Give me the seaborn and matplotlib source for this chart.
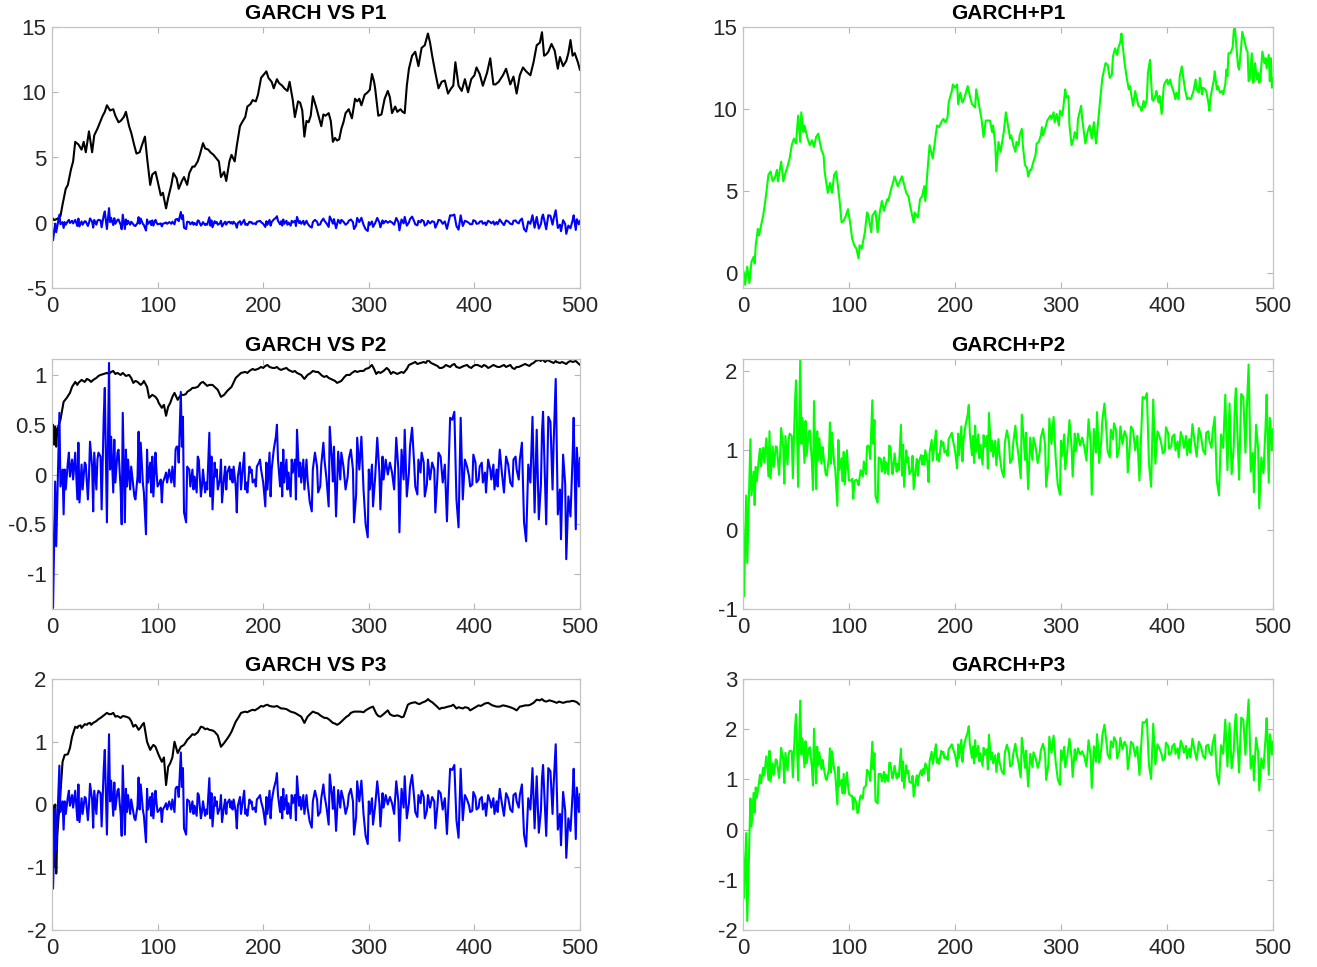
import matplotlib
matplotlib.use("Agg")
import matplotlib.pyplot as plt
from matplotlib.ticker import FuncFormatter
import seaborn as sns
import pandas as pd

sns.set_theme(style="white")
plt.rcParams["font.family"] = ["Liberation Sans", "DejaVu Sans"]

# ---- data: (time index, value) ----
# shared innovation / shock series P
shock_p = [
    (0, -0.42), (1, -1.34), (3, -0.07), (4, -0.72), (7, 0.62), (8, -0.12), (10, 0.05), (11, -0.40), (12, 0.05), (13, -0.15),
    (15, 0.12), (16, 0.22), (17, -0.02), (19, 0.15), (20, -0.05), (22, 0.22), (24, -0.25), (25, 0.32), (26, -0.28), (28, 0.10),
    (29, -0.15), (31, 0.12), (32, 0.10), (34, -0.25), (35, -0.02), (36, 0.33), (38, 0.08), (39, -0.37), (40, 0.22), (42, -0.15),
    (43, 0.15), (44, 0.22), (46, 0.18), (47, -0.35), (49, 0.58), (50, 0.87), (52, -0.48), (54, 1.12), (55, 0.05), (56, 0.38),
    (58, -0.18), (59, 0.35), (60, -0.08), (62, 0.22), (63, 0.25), (65, -0.15), (66, -0.50), (67, 0.62), (69, -0.48), (70, 0.25),
    (71, -0.12), (72, 0.15), (74, -0.15), (75, 0.08), (76, -0.02), (78, -0.22), (79, -0.25), (81, -0.02), (82, 0.43), (83, -0.08),
    (84, 0.32), (86, -0.08), (87, -0.18), (89, -0.60), (90, 0.25), (91, -0.08), (93, 0.12), (94, -0.18), (95, 0.18), (96, -0.22),
    (98, 0.22), (99, 0.02), (100, -0.12), (102, -0.08), (103, -0.05), (104, -0.28), (105, -0.08), (107, -0.02), (108, 0.02), (109, -0.08),
    (110, -0.02), (111, 0.05), (113, -0.08), (114, 0.08), (116, -0.12), (117, 0.25), (118, 0.28), (119, 0.28), (120, 0.12), (122, 0.83),
    (123, 0.28), (124, 0.58), (125, -0.38), (127, -0.48), (128, 0.08), (130, 0.05), (131, -0.12), (133, 0.05), (134, -0.15), (135, -0.02),
    (137, -0.18), (138, 0.18), (139, 0.15), (141, -0.22), (142, -0.12), (143, 0.05), (145, -0.18), (146, -0.08), (147, -0.15), (149, 0.42),
    (150, -0.22), (151, 0.18), (152, -0.35), (154, 0.12), (155, -0.02), (156, 0.05), (157, -0.15), (159, -0.05), (160, 0.15), (161, -0.28),
    (163, -0.02), (164, 0.08), (165, -0.15), (166, 0.02), (168, 0.08), (169, -0.05), (170, 0.05), (171, -0.08), (172, 0.08), (174, -0.12),
    (175, -0.38), (176, -0.02), (178, 0.12), (179, -0.15), (180, -0.02), (182, 0.22), (183, -0.15), (184, -0.08), (185, -0.18), (187, 0.08),
    (188, 0.02), (189, 0.05), (190, -0.08), (192, -0.05), (193, -0.12), (194, 0.08), (196, 0.12), (197, 0.15), (198, 0.05), (200, -0.08),
    (202, -0.32), (203, 0.12), (204, -0.15), (206, 0.22), (207, -0.22), (208, 0.05), (209, 0.15), (210, 0.25), (212, 0.38), (213, 0.50),
    (214, 0.15), (216, -0.12), (217, 0.12), (218, -0.22), (219, 0.25), (220, -0.08), (222, 0.15), (223, -0.15), (224, 0.02), (226, -0.22),
    (227, 0.15), (228, 0.02), (230, 0.15), (231, -0.25), (232, 0.45), (234, -0.02), (235, 0.12), (236, -0.08), (238, 0.15), (239, -0.15),
    (241, 0.15), (242, -0.05), (244, -0.27), (246, -0.37), (247, 0.05), (249, 0.22), (251, 0.08), (252, -0.18), (254, -0.12), (255, 0.10),
    (257, 0.32), (258, 0.15), (260, -0.05), (262, -0.32), (263, 0.48), (265, 0.15), (266, -0.07), (267, 0.28), (269, -0.42), (271, 0.23),
    (273, -0.05), (274, 0.22), (276, 0.08), (278, -0.15), (280, -0.02), (281, 0.15), (283, 0.25), (285, 0.05), (286, -0.48), (288, -0.20),
    (289, 0.37), (291, 0.05), (293, 0.38), (295, -0.15), (297, -0.50), (299, -0.63), (300, 0.05), (301, -0.15), (303, 0.10), (304, -0.32),
    (306, -0.03), (308, 0.37), (310, 0.02), (311, -0.35), (313, 0.18), (314, -0.05), (316, 0.15), (318, 0.00), (320, 0.12), (322, 0.02),
    (324, -0.15), (326, 0.37), (328, 0.05), (329, -0.58), (331, 0.25), (333, -0.05), (334, 0.45), (336, -0.22), (338, 0.02), (339, 0.28),
    (341, 0.47), (343, 0.10), (344, -0.12), (346, -0.20), (347, 0.15), (349, 0.02), (350, 0.22), (352, 0.12), (353, -0.22), (355, -0.10),
    (356, 0.15), (358, -0.05), (360, 0.12), (362, 0.05), (363, -0.38), (365, -0.02), (366, 0.22), (368, 0.18), (370, -0.08), (372, 0.10),
    (374, -0.47), (377, 0.57), (379, 0.55), (381, 0.63), (383, -0.25), (385, -0.53), (387, 0.57), (389, -0.25), (391, 0.15), (393, 0.08),
    (395, -0.02), (396, -0.12), (398, -0.10), (399, 0.20), (401, 0.12), (402, -0.08), (404, -0.05), (405, 0.08), (407, 0.12), (408, -0.08),
    (410, 0.02), (411, -0.18), (413, 0.15), (415, 0.05), (416, -0.05), (418, 0.10), (419, -0.15), (421, 0.05), (422, -0.12), (424, 0.25),
    (426, 0.02), (428, -0.18), (430, 0.18), (432, 0.10), (434, -0.08), (436, -0.12), (437, 0.15), (439, 0.18), (440, 0.05), (442, -0.05),
    (443, 0.15), (445, 0.32), (447, -0.48), (449, -0.67), (451, 0.10), (453, -0.08), (455, 0.58), (457, -0.38), (459, 0.45), (461, -0.45),
    (463, -0.10), (464, 0.42), (465, 0.63), (468, -0.50), (470, 0.58), (472, 0.53), (474, -0.15), (475, 0.30), (477, 0.96), (479, -0.40),
    (481, -0.15), (482, -0.65), (484, 0.20), (486, -0.10), (487, -0.85), (489, -0.22), (491, -0.42), (493, 0.18), (494, 0.57), (496, -0.55),
    (497, 0.27), (499, -0.12), (500, 0.17),
]

# GARCH fit for model P1
garch_p1 = [
    (0, 0.4), (2, 0.2), (5, 0.3), (8, 0.5), (10, 1.4), (13, 2.6), (15, 2.9), (18, 4.1), (20, 4.7), (22, 6.2),
    (25, 6.0), (28, 5.6), (30, 6.2), (32, 5.4), (35, 7.0), (38, 5.4), (40, 6.7), (43, 7.2), (45, 7.6), (48, 8.2),
    (50, 8.5), (52, 9.0), (55, 8.6), (58, 8.7), (60, 8.2), (63, 7.7), (65, 7.8), (68, 8.1), (70, 8.5), (73, 7.4),
    (75, 6.9), (78, 5.9), (80, 5.3), (83, 5.4), (85, 5.9), (88, 6.6), (90, 5.0), (93, 2.9), (95, 3.7), (98, 3.9),
    (100, 3.2), (103, 2.1), (105, 2.3), (108, 1.1), (110, 1.9), (113, 2.9), (115, 3.8), (118, 3.4), (120, 2.6), (123, 3.2),
    (125, 3.5), (128, 2.9), (130, 3.8), (133, 4.3), (135, 4.3), (138, 4.7), (140, 5.2), (143, 6.1), (145, 5.7), (148, 5.6),
    (150, 5.4), (153, 5.2), (155, 5.0), (158, 4.7), (160, 3.5), (163, 3.9), (165, 3.2), (168, 4.7), (170, 5.2), (173, 4.7),
    (175, 5.9), (178, 7.4), (180, 7.7), (183, 8.1), (185, 8.9), (188, 9.1), (190, 9.4), (193, 9.3), (195, 9.8), (198, 11.1),
    (200, 11.3), (203, 11.6), (205, 11.1), (208, 10.8), (210, 10.3), (213, 11.0), (215, 10.7), (218, 10.5), (220, 10.3), (223, 10.1),
    (225, 10.8), (228, 9.4), (230, 8.1), (233, 9.3), (235, 9.2), (237, 8.6), (239, 6.6), (241, 7.8), (243, 7.7), (245, 8.2),
    (247, 9.7), (250, 8.9), (253, 8.0), (255, 7.4), (257, 8.3), (259, 8.2), (262, 8.4), (264, 7.8), (266, 6.2), (268, 6.5),
    (270, 6.3), (272, 6.4), (274, 7.2), (276, 7.7), (278, 8.4), (281, 8.7), (284, 8.0), (287, 9.5), (289, 9.3), (291, 9.5),
    (293, 9.0), (296, 9.8), (299, 10.0), (301, 10.2), (303, 11.4), (305, 10.8), (306, 10.3), (309, 8.2), (312, 8.3), (315, 9.5),
    (318, 10.1), (320, 9.6), (322, 8.4), (325, 8.9), (327, 8.5), (330, 8.7), (332, 8.5), (334, 8.4), (336, 10.5), (338, 11.8),
    (341, 12.8), (344, 13.1), (347, 12.0), (350, 13.4), (353, 13.6), (356, 14.5), (358, 13.8), (360, 12.8), (363, 11.5), (366, 10.3),
    (369, 10.8), (372, 10.9), (375, 9.9), (378, 10.3), (380, 10.5), (382, 12.3), (385, 10.5), (388, 10.1), (391, 11.0), (394, 10.0),
    (397, 11.0), (400, 11.3), (402, 11.9), (405, 11.4), (408, 10.5), (412, 11.5), (415, 12.6), (418, 10.6), (420, 10.6), (423, 10.8),
    (427, 11.3), (430, 11.8), (434, 10.6), (437, 11.2), (440, 9.9), (443, 11.3), (446, 11.9), (449, 11.6), (453, 11.3), (456, 12.3),
    (459, 13.6), (462, 13.8), (464, 14.6), (466, 12.8), (468, 12.9), (470, 13.1), (473, 13.7), (476, 13.2), (479, 11.8), (481, 12.7),
    (484, 12.0), (487, 12.4), (489, 13.0), (491, 14.0), (493, 12.8), (495, 13.0), (498, 12.3), (500, 11.7),
]

# GARCH + P1 combined series
garch_plus_p1 = [
    (0, 0.2), (1, 0.0), (2, -0.7), (4, 0.4), (6, -0.6), (8, 0.7), (10, 1.0), (11, 0.6), (12, 1.7), (14, 2.7),
    (15, 2.3), (17, 2.9), (19, 3.5), (21, 4.4), (22, 4.9), (24, 6.0), (26, 6.2), (28, 5.6), (30, 5.8), (32, 6.3),
    (33, 5.6), (36, 6.8), (38, 5.6), (40, 6.1), (42, 6.5), (44, 7.0), (46, 7.8), (48, 8.2), (50, 7.9), (52, 9.6),
    (54, 8.0), (55, 9.8), (57, 8.6), (58, 9.0), (61, 8.2), (63, 7.8), (65, 8.1), (67, 7.7), (69, 8.3), (71, 8.5),
    (74, 7.5), (76, 7.2), (77, 6.2), (80, 4.9), (82, 5.5), (84, 4.9), (86, 6.0), (88, 6.2), (91, 4.5), (93, 3.1),
    (95, 3.2), (97, 3.5), (99, 3.9), (101, 3.1), (103, 2.1), (105, 1.7), (107, 1.5), (109, 0.9), (110, 1.7), (112, 1.5),
    (115, 2.5), (117, 3.7), (118, 3.6), (121, 2.5), (122, 3.5), (125, 3.8), (127, 2.5), (129, 3.7), (131, 4.4), (133, 3.8),
    (136, 4.5), (137, 4.4), (140, 5.2), (141, 5.4), (143, 5.9), (146, 5.3), (148, 5.6), (150, 5.9), (152, 5.4), (154, 4.9),
    (156, 4.7), (158, 4.0), (161, 3.1), (162, 3.7), (165, 3.4), (167, 4.5), (169, 4.7), (171, 5.3), (172, 4.4), (174, 6.2),
    (176, 7.8), (179, 7.0), (181, 8.0), (183, 9.0), (185, 8.9), (187, 9.2), (189, 9.4), (191, 9.2), (193, 9.5), (194, 10.4),
    (197, 11.1), (198, 11.5), (200, 11.3), (202, 11.5), (203, 10.3), (205, 11.0), (207, 10.4), (209, 10.7), (212, 11.4), (214, 10.8),
    (216, 10.3), (219, 10.1), (220, 11.2), (222, 10.5), (225, 9.4), (227, 8.3), (229, 9.3), (231, 9.3), (233, 9.3), (235, 8.6),
    (236, 9.0), (238, 7.8), (239, 6.2), (241, 8.0), (243, 7.4), (246, 8.6), (248, 9.8), (250, 9.0), (252, 8.2), (253, 8.4),
    (255, 7.8), (257, 7.4), (258, 8.0), (260, 7.8), (261, 8.4), (263, 8.8), (264, 7.8), (266, 6.6), (268, 6.4), (269, 5.9),
    (271, 6.3), (272, 6.3), (274, 6.8), (276, 7.2), (277, 7.9), (279, 8.0), (281, 8.4), (282, 8.9), (283, 8.4), (285, 8.8),
    (287, 9.3), (290, 9.6), (291, 9.4), (293, 9.8), (294, 9.2), (296, 9.7), (298, 9.0), (299, 9.9), (301, 9.6), (302, 10.0),
    (304, 11.2), (305, 10.7), (307, 10.8), (308, 9.0), (310, 7.8), (312, 8.2), (313, 8.6), (315, 8.2), (316, 9.4), (319, 10.2),
    (320, 9.4), (323, 7.9), (325, 8.6), (327, 9.0), (329, 8.2), (331, 9.2), (333, 7.9), (335, 9.2), (337, 10.6), (339, 11.9),
    (342, 12.8), (344, 12.7), (346, 11.9), (348, 12.1), (349, 13.2), (351, 13.7), (353, 13.3), (354, 13.7), (356, 14.1), (357, 14.6),
    (359, 13.4), (360, 12.8), (362, 11.9), (364, 11.2), (365, 11.4), (367, 10.6), (368, 10.2), (370, 11.1), (371, 10.8), (373, 10.2),
    (375, 10.1), (376, 9.9), (378, 10.5), (379, 10.1), (381, 10.6), (382, 12.2), (384, 13.0), (386, 10.6), (387, 10.5), (389, 10.8),
    (390, 11.1), (392, 10.4), (393, 10.8), (395, 9.7), (397, 11.4), (398, 11.6), (400, 11.8), (401, 11.5), (403, 11.8), (404, 11.5),
    (406, 11.1), (408, 10.6), (409, 11.0), (411, 10.6), (412, 12.0), (414, 12.6), (415, 12.1), (417, 11.2), (419, 10.6), (420, 10.7),
    (422, 10.6), (423, 10.7), (425, 11.1), (427, 11.8), (428, 11.2), (430, 11.0), (431, 11.9), (433, 10.9), (434, 11.3), (436, 11.2),
    (437, 11.1), (439, 10.4), (440, 9.9), (441, 10.7), (443, 11.4), (444, 11.7), (445, 12.3), (447, 11.2), (448, 11.4), (450, 11.0),
    (452, 11.1), (453, 10.9), (455, 11.5), (456, 12.4), (457, 12.0), (458, 13.4), (460, 13.4), (462, 13.8), (463, 14.8), (464, 15.0),
    (466, 13.4), (467, 12.6), (468, 12.4), (470, 13.8), (471, 14.7), (473, 14.2), (475, 13.6), (476, 13.5), (477, 11.7), (478, 11.8),
    (480, 13.4), (481, 11.6), (482, 11.7), (483, 12.8), (485, 11.8), (486, 12.2), (487, 11.6), (488, 11.8), (490, 13.5), (492, 12.8),
    (493, 13.1), (494, 12.5), (496, 13.3), (497, 11.7), (498, 13.1), (499, 11.3), (500, 11.9),
]

# GARCH fit for model P2
garch_p2 = [
    (0, 0.30), (1, 0.50), (2, 0.30), (3, 0.48), (4, 0.28), (5, 0.45), (8, 0.55), (11, 0.73), (14, 0.77), (17, 0.82),
    (19, 0.88), (22, 0.93), (24, 0.90), (25, 0.92), (27, 0.94), (28, 0.95), (31, 0.93), (33, 0.96), (35, 0.95), (37, 0.93),
    (39, 0.95), (42, 0.97), (44, 0.99), (46, 1.00), (49, 1.01), (52, 1.02), (54, 1.01), (56, 1.03), (58, 1.04), (60, 1.01),
    (62, 1.02), (65, 1.00), (67, 1.02), (70, 0.99), (73, 1.00), (75, 0.97), (77, 0.92), (79, 0.94), (81, 0.93), (84, 0.90),
    (86, 0.92), (87, 0.94), (90, 0.88), (92, 0.77), (94, 0.79), (95, 0.80), (98, 0.78), (100, 0.75), (101, 0.72), (104, 0.67),
    (106, 0.70), (108, 0.59), (110, 0.68), (112, 0.72), (114, 0.78), (116, 0.82), (119, 0.75), (122, 0.80), (125, 0.80), (127, 0.81),
    (128, 0.83), (131, 0.85), (133, 0.87), (135, 0.87), (138, 0.88), (141, 0.92), (143, 0.93), (145, 0.91), (147, 0.89), (149, 0.90),
    (152, 0.90), (154, 0.88), (157, 0.85), (160, 0.78), (163, 0.80), (166, 0.84), (168, 0.86), (170, 0.88), (174, 0.97), (177, 1.00),
    (179, 1.02), (183, 1.03), (185, 1.02), (187, 1.04), (190, 1.06), (192, 1.05), (195, 1.06), (198, 1.08), (200, 1.07), (202, 1.09),
    (204, 1.10), (206, 1.08), (209, 1.07), (211, 1.07), (213, 1.08), (215, 1.06), (217, 1.05), (219, 1.06), (222, 1.07), (224, 1.05),
    (226, 1.04), (228, 1.03), (230, 1.04), (232, 1.02), (234, 1.01), (236, 1.00), (239, 0.96), (242, 1.00), (245, 1.02), (247, 1.04),
    (250, 1.03), (252, 1.03), (254, 1.01), (256, 0.99), (258, 0.98), (260, 0.99), (262, 0.97), (264, 0.96), (266, 0.95), (268, 0.94),
    (270, 0.92), (272, 0.93), (274, 0.94), (277, 0.98), (279, 1.00), (282, 1.00), (284, 1.02), (287, 1.04), (289, 1.03), (292, 1.04),
    (295, 1.04), (297, 1.06), (300, 1.07), (303, 1.10), (305, 1.06), (307, 1.01), (309, 1.03), (311, 1.02), (314, 1.04), (317, 1.07),
    (319, 1.05), (321, 1.01), (323, 1.03), (325, 1.02), (327, 1.01), (329, 1.02), (331, 1.03), (333, 1.02), (336, 1.06), (338, 1.10),
    (340, 1.11), (342, 1.12), (344, 1.13), (346, 1.11), (349, 1.12), (352, 1.13), (354, 1.12), (356, 1.15), (359, 1.12), (361, 1.11),
    (363, 1.10), (365, 1.09), (367, 1.07), (369, 1.07), (371, 1.08), (373, 1.10), (375, 1.09), (377, 1.08), (379, 1.10), (381, 1.11),
    (383, 1.08), (386, 1.07), (388, 1.08), (390, 1.09), (393, 1.10), (395, 1.08), (397, 1.07), (399, 1.09), (401, 1.10), (403, 1.10),
    (405, 1.09), (407, 1.08), (409, 1.10), (411, 1.09), (413, 1.07), (415, 1.08), (418, 1.10), (420, 1.09), (422, 1.08), (424, 1.08),
    (426, 1.09), (428, 1.10), (430, 1.08), (432, 1.09), (434, 1.10), (436, 1.07), (438, 1.06), (440, 1.08), (442, 1.08), (444, 1.09),
    (446, 1.10), (448, 1.11), (450, 1.10), (452, 1.09), (454, 1.11), (456, 1.12), (458, 1.14), (461, 1.15), (463, 1.14), (464, 1.16),
    (467, 1.13), (469, 1.15), (471, 1.14), (473, 1.13), (475, 1.12), (477, 1.14), (478, 1.13), (481, 1.12), (483, 1.13), (485, 1.12),
    (487, 1.11), (489, 1.13), (491, 1.14), (493, 1.13), (496, 1.14), (498, 1.12), (500, 1.10),
]

garch_plus_p2 = [
    (0, 0.08), (1, -0.84), (3, 0.43), (4, -0.42), (7, 1.14), (8, 0.43), (10, 0.73), (11, 0.31), (12, 0.79), (13, 0.61),
    (15, 0.90), (16, 1.02), (17, 0.80), (19, 1.03), (20, 0.85), (22, 1.15), (24, 0.67), (25, 1.24), (26, 0.65), (28, 1.05),
    (29, 0.79), (31, 1.05), (32, 1.04), (34, 0.69), (35, 0.93), (36, 1.28), (38, 1.03), (39, 0.58), (40, 1.18), (42, 0.82),
    (43, 1.13), (44, 1.21), (46, 1.18), (47, 0.65), (49, 1.59), (50, 1.88), (52, 0.54), (54, 2.15), (55, 1.08), (56, 1.41),
    (58, 0.84), (59, 1.37), (60, 0.93), (62, 1.23), (63, 1.25), (65, 0.85), (66, 0.50), (67, 1.62), (69, 0.51), (70, 1.24),
    (71, 0.87), (72, 1.15), (74, 0.83), (75, 1.04), (76, 0.92), (78, 0.70), (79, 0.68), (81, 0.91), (82, 1.35), (83, 0.83),
    (84, 1.22), (86, 0.84), (87, 0.76), (89, 0.30), (90, 1.13), (91, 0.75), (93, 0.90), (94, 0.61), (95, 0.98), (96, 0.57),
    (98, 1.00), (99, 0.78), (100, 0.62), (102, 0.62), (103, 0.64), (104, 0.39), (105, 0.61), (107, 0.63), (108, 0.61), (109, 0.56),
    (110, 0.66), (111, 0.75), (113, 0.67), (114, 0.86), (116, 0.70), (117, 1.05), (118, 1.06), (119, 1.03), (120, 0.89), (122, 1.63),
    (123, 1.08), (124, 1.38), (125, 0.42), (127, 0.34), (128, 0.91), (130, 0.89), (131, 0.73), (133, 0.91), (134, 0.71), (135, 0.85),
    (137, 0.70), (138, 1.06), (139, 1.04), (141, 0.70), (142, 0.80), (143, 0.96), (145, 0.73), (146, 0.83), (147, 0.75), (149, 1.32),
    (150, 0.68), (151, 1.07), (152, 0.54), (154, 1.00), (155, 0.85), (156, 0.91), (157, 0.70), (159, 0.75), (160, 0.93), (161, 0.51),
    (163, 0.78), (164, 0.89), (165, 0.68), (166, 0.86), (168, 0.94), (169, 0.82), (170, 0.93), (171, 0.82), (172, 1.00), (174, 0.85),
    (175, 0.60), (176, 0.97), (178, 1.13), (179, 0.87), (180, 1.00), (182, 1.25), (183, 0.88), (184, 0.95), (185, 0.86), (187, 1.12),
    (188, 1.06), (189, 1.10), (190, 0.97), (192, 1.00), (193, 0.93), (194, 1.14), (196, 1.19), (197, 1.22), (198, 1.13), (200, 1.00),
    (202, 0.77), (203, 1.21), (204, 0.94), (206, 1.30), (207, 0.86), (208, 1.13), (209, 1.22), (210, 1.32), (212, 1.45), (213, 1.57),
    (214, 1.21), (216, 0.94), (217, 1.18), (218, 0.84), (219, 1.31), (220, 0.98), (222, 1.20), (223, 0.90), (224, 1.07), (226, 0.82),
    (227, 1.19), (228, 1.05), (230, 1.18), (231, 0.77), (232, 1.47), (234, 0.99), (235, 1.12), (236, 0.92), (238, 1.12), (239, 0.81),
    (241, 1.14), (242, 0.95), (244, 0.75), (246, 0.66), (247, 1.09), (249, 1.25), (251, 1.10), (252, 0.84), (254, 0.89), (255, 1.10),
    (257, 1.31), (258, 1.13), (260, 0.93), (262, 0.65), (263, 1.45), (265, 1.11), (266, 0.88), (267, 1.22), (269, 0.51), (271, 1.16),
    (273, 0.88), (274, 1.16), (276, 1.05), (278, 0.84), (280, 0.98), (281, 1.16), (283, 1.27), (285, 1.07), (286, 0.54), (288, 0.82),
    (289, 1.40), (291, 1.08), (293, 1.42), (295, 0.90), (297, 0.56), (299, 0.44), (300, 1.12), (301, 0.93), (303, 1.20), (304, 0.76),
    (306, 1.01), (308, 1.38), (310, 1.04), (311, 0.67), (313, 1.21), (314, 0.99), (316, 1.21), (318, 1.06), (320, 1.16), (322, 1.04),
    (324, 0.87), (326, 1.39), (328, 1.07), (329, 0.44), (331, 1.27), (333, 0.97), (334, 1.48), (336, 0.84), (338, 1.12), (339, 1.38),
    (341, 1.59), (343, 1.22), (344, 0.99), (346, 0.91), (347, 1.26), (349, 1.14), (350, 1.34), (352, 1.25), (353, 0.91), (355, 1.04),
    (356, 1.30), (358, 1.08), (360, 1.24), (362, 1.16), (363, 0.72), (365, 1.07), (366, 1.30), (368, 1.25), (370, 1.00), (372, 1.18),
    (374, 0.62), (377, 1.67), (379, 1.65), (381, 1.72), (383, 0.83), (385, 0.54), (387, 1.64), (389, 0.83), (391, 1.24), (393, 1.17),
    (395, 1.06), (396, 0.96), (398, 0.99), (399, 1.29), (401, 1.22), (402, 1.02), (404, 1.05), (405, 1.17), (407, 1.20), (408, 1.00),
    (410, 1.11), (411, 0.91), (413, 1.23), (415, 1.13), (416, 1.03), (418, 1.18), (419, 0.94), (421, 1.14), (422, 0.97), (424, 1.33),
    (426, 1.11), (428, 0.92), (430, 1.28), (432, 1.19), (434, 1.00), (436, 0.95), (437, 1.22), (439, 1.24), (440, 1.12), (442, 1.03),
    (443, 1.23), (445, 1.42), (447, 0.62), (449, 0.43), (451, 1.20), (453, 1.03), (455, 1.70), (457, 0.75), (459, 1.59), (461, 0.70),
    (463, 1.05), (464, 1.58), (465, 1.78), (468, 0.63), (470, 1.71), (472, 1.67), (474, 0.97), (475, 1.42), (477, 2.08), (479, 0.73),
    (481, 0.97), (482, 0.47), (484, 1.32), (486, 1.02), (487, 0.27), (489, 0.91), (491, 0.71), (493, 1.31), (494, 1.70), (496, 0.59),
    (497, 1.41), (499, 1.00), (500, 1.27),
]

# GARCH fit for model P3
garch_p3 = [
    (0, 0.00), (1, -0.02), (2, -1.00), (3, 0.00), (4, -1.10), (5, -0.50), (6, -0.25), (8, 0.18), (10, 0.68), (12, 0.79),
    (15, 0.80), (17, 0.90), (19, 1.08), (22, 1.24), (24, 1.22), (25, 1.25), (27, 1.26), (28, 1.22), (31, 1.28), (33, 1.27),
    (34, 1.29), (36, 1.30), (37, 1.27), (39, 1.30), (42, 1.33), (44, 1.36), (46, 1.38), (49, 1.42), (52, 1.46), (54, 1.44),
    (56, 1.44), (58, 1.46), (60, 1.40), (62, 1.41), (65, 1.38), (67, 1.41), (70, 1.40), (73, 1.38), (75, 1.33), (77, 1.24),
    (79, 1.27), (80, 1.25), (82, 1.19), (84, 1.23), (85, 1.26), (87, 1.30), (90, 1.00), (93, 0.87), (94, 0.90), (96, 0.95),
    (98, 0.92), (100, 0.83), (101, 0.79), (104, 0.68), (106, 0.75), (108, 0.31), (110, 0.60), (112, 0.66), (114, 0.75), (115, 0.88),
    (116, 1.00), (119, 0.82), (122, 0.92), (125, 0.95), (127, 1.00), (128, 1.03), (131, 1.08), (133, 1.12), (135, 1.11), (138, 1.15),
    (141, 1.24), (143, 1.23), (145, 1.20), (147, 1.21), (149, 1.19), (152, 1.18), (154, 1.16), (157, 1.10), (160, 0.92), (163, 0.98),
    (166, 1.05), (168, 1.10), (170, 1.16), (174, 1.32), (177, 1.40), (179, 1.46), (183, 1.48), (185, 1.47), (187, 1.49), (190, 1.51),
    (192, 1.50), (195, 1.53), (198, 1.57), (200, 1.56), (202, 1.58), (204, 1.59), (206, 1.57), (209, 1.56), (211, 1.56), (213, 1.57),
    (215, 1.55), (217, 1.53), (219, 1.53), (222, 1.52), (224, 1.50), (226, 1.48), (228, 1.47), (230, 1.46), (232, 1.44), (234, 1.42),
    (236, 1.40), (239, 1.30), (242, 1.40), (245, 1.45), (247, 1.48), (250, 1.46), (252, 1.45), (254, 1.42), (256, 1.40), (258, 1.38),
    (260, 1.38), (262, 1.36), (264, 1.33), (266, 1.30), (268, 1.29), (270, 1.27), (272, 1.29), (274, 1.32), (277, 1.37), (279, 1.40),
    (281, 1.42), (283, 1.46), (286, 1.48), (288, 1.48), (292, 1.48), (295, 1.47), (297, 1.50), (301, 1.54), (304, 1.56), (307, 1.45),
    (309, 1.41), (311, 1.40), (314, 1.44), (316, 1.47), (318, 1.50), (320, 1.44), (322, 1.42), (324, 1.41), (327, 1.42), (329, 1.41),
    (331, 1.39), (333, 1.40), (337, 1.59), (339, 1.61), (341, 1.62), (344, 1.63), (346, 1.61), (348, 1.60), (350, 1.62), (353, 1.64),
    (355, 1.66), (356, 1.68), (358, 1.65), (360, 1.63), (362, 1.60), (364, 1.57), (367, 1.52), (369, 1.54), (371, 1.54), (373, 1.55),
    (375, 1.56), (378, 1.57), (380, 1.59), (383, 1.53), (385, 1.55), (387, 1.54), (389, 1.53), (391, 1.55), (394, 1.54), (396, 1.50),
    (398, 1.52), (400, 1.54), (402, 1.56), (404, 1.58), (406, 1.57), (408, 1.59), (410, 1.61), (413, 1.62), (415, 1.60), (417, 1.58),
    (419, 1.57), (421, 1.56), (424, 1.56), (427, 1.58), (430, 1.57), (432, 1.56), (434, 1.55), (437, 1.53), (440, 1.50), (443, 1.56),
    (446, 1.57), (448, 1.58), (451, 1.58), (453, 1.59), (456, 1.62), (459, 1.67), (462, 1.66), (464, 1.68), (466, 1.65), (468, 1.64),
    (471, 1.66), (473, 1.65), (475, 1.64), (478, 1.62), (480, 1.64), (482, 1.63), (484, 1.62), (486, 1.63), (488, 1.64), (490, 1.64),
    (492, 1.65), (494, 1.65), (497, 1.63), (499, 1.60), (500, 1.59),
]

garch_plus_p3 = [
    (0, -0.42), (1, -1.36), (3, -0.07), (4, -1.82), (7, 0.62), (8, 0.06), (10, 0.73), (11, 0.34), (12, 0.84), (13, 0.64),
    (15, 0.92), (16, 1.09), (17, 0.92), (19, 1.23), (20, 1.08), (22, 1.46), (24, 0.99), (25, 1.57), (26, 0.96), (28, 1.32),
    (29, 1.09), (31, 1.40), (32, 1.37), (34, 1.03), (35, 1.27), (36, 1.63), (38, 1.38), (39, 0.93), (40, 1.53), (42, 1.18),
    (43, 1.49), (44, 1.57), (46, 1.56), (47, 1.04), (49, 2.00), (50, 2.30), (52, 0.98), (54, 2.57), (55, 1.50), (56, 1.82),
    (58, 1.24), (59, 1.76), (60, 1.32), (62, 1.61), (63, 1.64), (65, 1.23), (66, 0.88), (67, 2.01), (69, 0.92), (70, 1.65),
    (71, 1.28), (72, 1.54), (74, 1.20), (75, 1.39), (76, 1.25), (78, 1.02), (79, 0.99), (81, 1.20), (82, 1.62), (83, 1.14),
    (84, 1.56), (86, 1.20), (87, 1.12), (89, 0.50), (90, 1.25), (91, 0.87), (93, 0.99), (94, 0.72), (95, 1.11), (96, 0.72),
    (98, 1.14), (99, 0.90), (100, 0.71), (102, 0.67), (103, 0.67), (104, 0.40), (105, 0.64), (107, 0.53), (108, 0.33), (109, 0.37),
    (110, 0.58), (111, 0.68), (113, 0.62), (114, 0.83), (116, 0.88), (117, 1.19), (118, 1.16), (119, 1.10), (120, 0.97), (122, 1.75),
    (123, 1.21), (124, 1.52), (125, 0.57), (127, 0.52), (128, 1.11), (130, 1.11), (131, 0.96), (133, 1.15), (134, 0.95), (135, 1.09),
    (137, 0.96), (138, 1.33), (139, 1.33), (141, 1.02), (142, 1.11), (143, 1.27), (145, 1.02), (146, 1.12), (147, 1.05), (149, 1.61),
    (150, 0.97), (151, 1.36), (152, 0.83), (154, 1.28), (155, 1.12), (156, 1.17), (157, 0.95), (159, 0.93), (160, 1.07), (161, 0.66),
    (163, 0.96), (164, 1.08), (165, 0.88), (166, 1.07), (168, 1.18), (169, 1.08), (170, 1.21), (171, 1.12), (172, 1.32), (174, 1.20),
    (175, 0.97), (176, 1.36), (178, 1.55), (179, 1.31), (180, 1.44), (182, 1.70), (183, 1.33), (184, 1.41), (185, 1.31), (187, 1.57),
    (188, 1.51), (189, 1.55), (190, 1.42), (192, 1.45), (193, 1.39), (194, 1.60), (196, 1.66), (197, 1.70), (198, 1.62), (200, 1.49),
    (202, 1.26), (203, 1.70), (204, 1.43), (206, 1.79), (207, 1.35), (208, 1.62), (209, 1.72), (210, 1.81), (212, 1.94), (213, 2.06),
    (214, 1.70), (216, 1.43), (217, 1.66), (218, 1.32), (219, 1.78), (220, 1.45), (222, 1.67), (223, 1.36), (224, 1.52), (226, 1.27),
    (227, 1.63), (228, 1.49), (230, 1.60), (231, 1.20), (232, 1.89), (234, 1.40), (235, 1.53), (236, 1.32), (238, 1.48), (239, 1.15),
    (241, 1.52), (242, 1.35), (244, 1.17), (246, 1.10), (247, 1.53), (249, 1.69), (251, 1.53), (252, 1.26), (254, 1.30), (255, 1.51),
    (257, 1.71), (258, 1.53), (260, 1.32), (262, 1.04), (263, 1.83), (265, 1.47), (266, 1.23), (267, 1.57), (269, 0.86), (271, 1.51),
    (273, 1.25), (274, 1.54), (276, 1.43), (278, 1.23), (280, 1.39), (281, 1.58), (283, 1.71), (285, 1.51), (286, 0.99), (288, 1.28),
    (289, 1.85), (291, 1.53), (293, 1.87), (295, 1.34), (297, 1.00), (299, 0.89), (300, 1.58), (301, 1.39), (303, 1.65), (304, 1.24),
    (306, 1.47), (308, 1.81), (310, 1.43), (311, 1.05), (313, 1.60), (314, 1.39), (316, 1.62), (318, 1.50), (320, 1.56), (322, 1.45),
    (324, 1.26), (326, 1.78), (328, 1.46), (329, 0.83), (331, 1.66), (333, 1.35), (334, 1.90), (336, 1.33), (338, 1.60), (339, 1.88),
    (341, 2.09), (343, 1.72), (344, 1.50), (346, 1.41), (347, 1.76), (349, 1.64), (350, 1.84), (352, 1.75), (353, 1.42), (355, 1.56),
    (356, 1.83), (358, 1.60), (360, 1.75), (362, 1.65), (363, 1.20), (365, 1.53), (366, 1.75), (368, 1.70), (370, 1.46), (372, 1.65),
    (374, 1.09), (377, 2.14), (379, 2.13), (381, 2.20), (383, 1.28), (385, 1.01), (387, 2.11), (389, 1.30), (391, 1.70), (393, 1.61),
    (395, 1.49), (396, 1.38), (398, 1.42), (399, 1.73), (401, 1.67), (402, 1.49), (404, 1.53), (405, 1.66), (407, 1.71), (408, 1.51),
    (410, 1.62), (411, 1.42), (413, 1.77), (415, 1.65), (416, 1.53), (418, 1.67), (419, 1.42), (421, 1.61), (422, 1.44), (424, 1.81),
    (426, 1.58), (428, 1.39), (430, 1.75), (432, 1.66), (434, 1.47), (436, 1.41), (437, 1.67), (439, 1.69), (440, 1.55), (442, 1.48),
    (443, 1.71), (445, 1.89), (447, 1.10), (449, 0.91), (451, 1.68), (453, 1.51), (455, 2.19), (457, 1.26), (459, 2.12), (461, 1.22),
    (463, 1.57), (464, 2.10), (465, 2.30), (468, 1.14), (470, 2.23), (472, 2.19), (474, 1.49), (475, 1.94), (477, 2.59), (479, 1.22),
    (481, 1.47), (482, 0.98), (484, 1.83), (486, 1.53), (487, 0.78), (489, 1.42), (491, 1.22), (493, 1.83), (494, 2.22), (496, 1.09),
    (497, 1.90), (499, 1.49), (500, 1.76),
]

titles_left = ["GARCH VS P1", "GARCH VS P2", "GARCH VS P3"]
titles_right = ["GARCH+P1", "GARCH+P2", "GARCH+P3"]
x_ticks = [0, 100, 200, 300, 400, 500]


def frame(pairs):
    return pd.DataFrame(pairs, columns=["t", "value"]).sort_values("t")


def draw(ax, pairs, color):
    sns.lineplot(data=frame(pairs), x="t", y="value", ax=ax, color=color,
                 linewidth=1.5, estimator=None, sort=False)


def style(ax, title, yticks, ylim):
    ax.set_xlim(0, 500)
    ax.set_ylim(*ylim)
    ax.set_xticks(x_ticks)
    ax.set_yticks(yticks)
    fmt = FuncFormatter(lambda v, _: f"{v:g}")
    ax.xaxis.set_major_formatter(fmt)
    ax.yaxis.set_major_formatter(fmt)
    ax.tick_params(axis="both", which="major", direction="in", length=4.5, width=0.8,
                   color="#b5b5b5", labelsize=16, labelcolor="#262626",
                   top=True, right=True, bottom=True, left=True)
    ax.tick_params(axis="x", pad=6)
    ax.tick_params(axis="y", pad=4)
    for spine in ax.spines.values():
        spine.set_visible(True)
        spine.set_color("#c4c4c4")
        spine.set_linewidth(0.9)
    ax.set_xlabel("")
    ax.set_ylabel("")
    ax.set_title(title, fontsize=15, fontweight="bold", color="black", pad=6)


W, H = 1317, 967
fig = plt.figure(figsize=(W / 100, H / 100), dpi=100)
fig.patch.set_facecolor("white")


def add_axes(left, top, right, bottom):
    return fig.add_axes([left / W, 1 - bottom / H, (right - left) / W, (bottom - top) / H])


rows = [(27, 288), (359, 609), (679, 930)]
left_cols = (52, 580)
right_cols = (743, 1273)

# left column: GARCH vs P
ax = add_axes(left_cols[0], rows[0][0], left_cols[1], rows[0][1])
draw(ax, garch_p1, "black")
draw(ax, shock_p, "#0000ff")
style(ax, titles_left[0], [-5, 0, 5, 10, 15], (-5, 15))

ax = add_axes(left_cols[0], rows[1][0], left_cols[1], rows[1][1])
draw(ax, garch_p2, "black")
draw(ax, shock_p, "#0000ff")
style(ax, titles_left[1], [-1, -0.5, 0, 0.5, 1], (-1.35, 1.16))

ax = add_axes(left_cols[0], rows[2][0], left_cols[1], rows[2][1])
draw(ax, garch_p3, "black")
draw(ax, shock_p, "#0000ff")
style(ax, titles_left[2], [-2, -1, 0, 1, 2], (-2, 2))

# right column: GARCH + P
ax = add_axes(right_cols[0], rows[0][0], right_cols[1], rows[0][1])
draw(ax, garch_plus_p1, "#00ff00")
style(ax, titles_right[0], [0, 5, 10, 15], (-0.9, 15.0))

ax = add_axes(right_cols[0], rows[1][0], right_cols[1], rows[1][1])
draw(ax, garch_plus_p2, "#00ff00")
style(ax, titles_right[1], [-1, 0, 1, 2], (-1.0, 2.15))

ax = add_axes(right_cols[0], rows[2][0], right_cols[1], rows[2][1])
draw(ax, garch_plus_p3, "#00ff00")
style(ax, titles_right[2], [-2, -1, 0, 1, 2, 3], (-2, 3))

fig.savefig("out.png", dpi=100, facecolor="white")
